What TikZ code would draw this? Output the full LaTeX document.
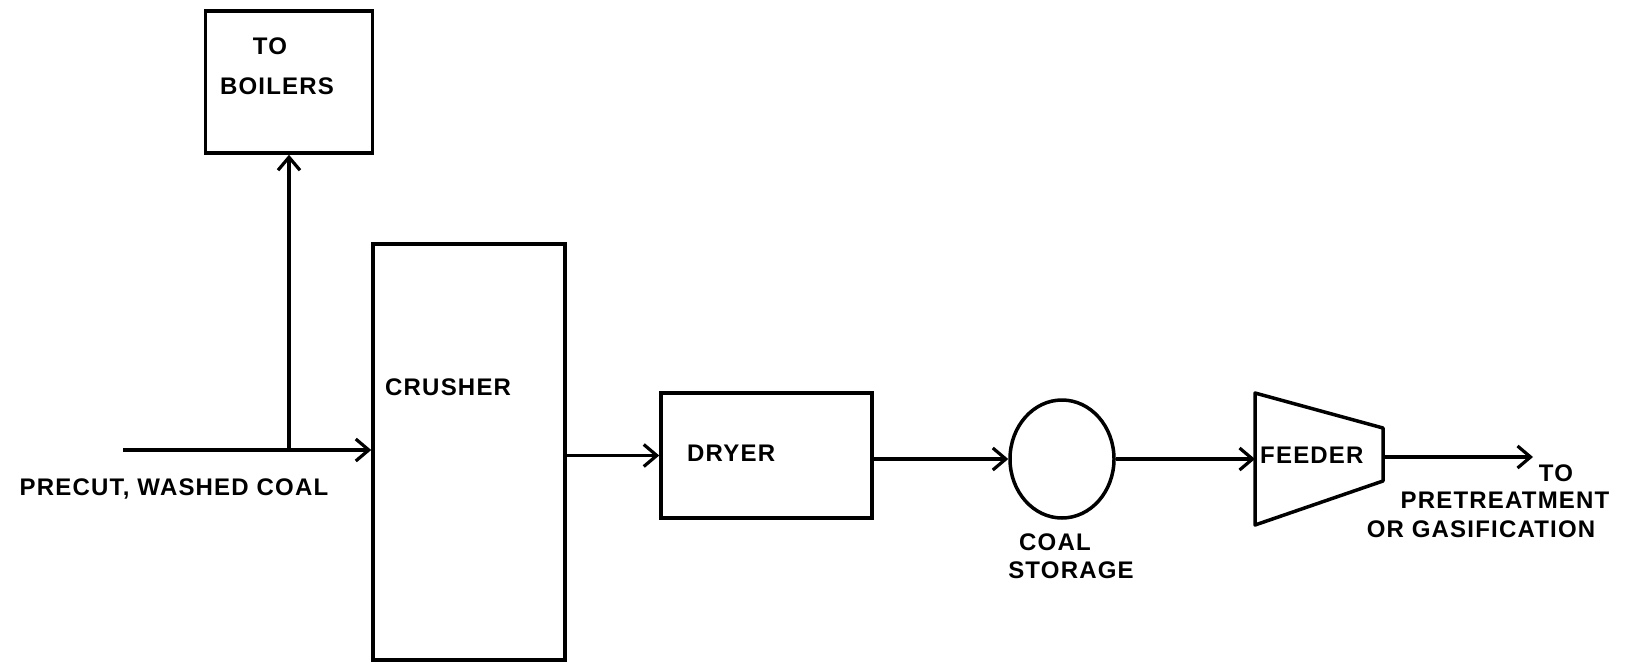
\documentclass[tikz,border=0pt]{standalone}
\usepackage{fontspec}
\setmainfont{Liberation Sans}[LetterSpace=5]
\usetikzlibrary{arrows.meta,shapes.geometric}
\begin{document}
\begin{tikzpicture}[x=1pt,y=-1pt,
  box/.style={draw, line width=3.5pt, inner sep=0pt, rectangle},
  lbl/.style={font=\fontsize{24}{28}\selectfont\bfseries, inner sep=0pt},
  flow/.style={line width=3.2pt, -{Straight Barb[length=13pt,width=22pt,line width=3.2pt]}}]
\useasboundingbox (0,0) rectangle (1636,665);
% boxes
\node[box, minimum width=167pt, minimum height=142pt] (boilers) at (289,82) {};
\node[box, minimum width=192pt, minimum height=416pt] (crusher) at (469,452) {};
\node[box, minimum width=211pt, minimum height=125pt] (dryer) at (766.5,455.5) {};
\node[draw, ellipse, line width=3.5pt, minimum width=104pt, minimum height=118pt, inner sep=0pt] (storage) at (1062,459) {};
\draw[line width=3.5pt, line join=round] (1255,393) -- (1383,428) -- (1383,481) -- (1255,525) -- cycle;
\coordinate (fin) at (1255,459);
\coordinate (fout) at (1383,457);
\coordinate (src) at (123,450);
\coordinate (dst) at (1533,457);
% connectors
\draw[flow] (src) -- (src -| crusher.west);
\draw[flow] (boilers.south |- src) -- (boilers.south);
\draw[flow] (dryer.west -| crusher.east) -- (dryer.west);
\draw[flow] (storage.west -| dryer.east) -- (storage.west);
\draw[flow] (storage.east) -- (fin);
\draw[flow] (fout) -- (dst);
% labels
\node[lbl] (t1) at (270,46) {TO};
\node[lbl] (t2) at (277,86) {BOILERS};
\node[lbl, anchor=west] (t3) at (385,387) {CRUSHER};
\node[lbl, anchor=west] (t4) at (687,453) {DRYER};
\node[lbl] (t5) at (1055,542) {COAL};
\node[lbl] (t6) at (1071,570) {STORAGE};
\node[lbl, anchor=west] (t7) at (1260,455) {FEEDER};
\node[lbl] (t8) at (1556,473) {TO};
\node[lbl] (t9) at (1505,500) {PRETREATMENT};
\node[lbl] (t10) at (1481,529) {OR GASIFICATION};
\node[lbl] (t11) at (174,489) {PRECUT, WASHED COAL};
\end{tikzpicture}
\end{document}
